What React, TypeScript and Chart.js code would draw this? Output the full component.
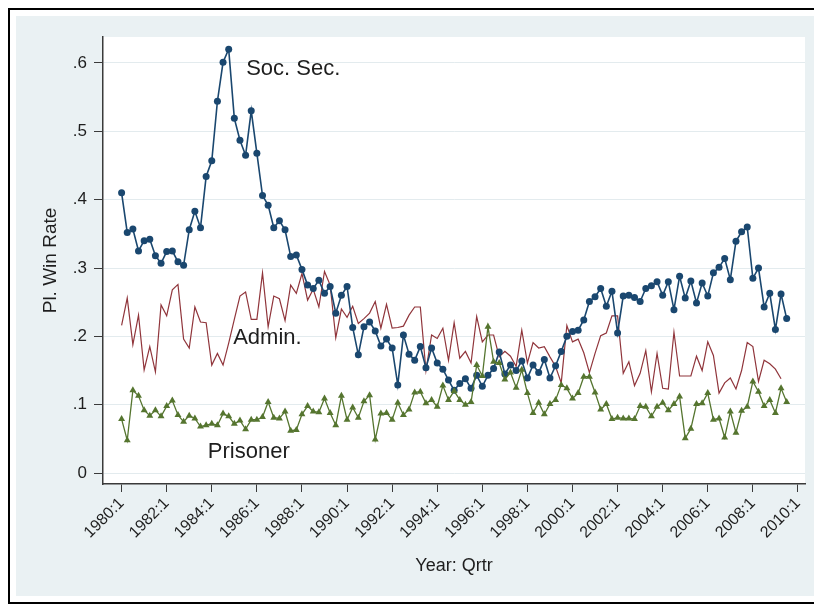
import React, { useEffect, useRef } from "react";
import { Chart, registerables } from "chart.js";

Chart.register(...registerables);

// Quarterly plaintiff win rates, 1980:1 onward (index 0 = 1980:1)
const startYear = 1980;

const socSec = [
  0.410, 0.352, 0.357, 0.325, 0.340, 0.342, 0.318, 0.307, 0.324, 0.325,
  0.309, 0.304, 0.356, 0.383, 0.359, 0.434, 0.457, 0.544, 0.601, 0.620,
  0.519, 0.487, 0.465, 0.530, 0.468, 0.406, 0.392, 0.359, 0.369, 0.356,
  0.317, 0.319, 0.298, 0.275, 0.270, 0.282, 0.263, 0.273, 0.234, 0.260,
  0.273, 0.213, 0.173, 0.214, 0.221, 0.208, 0.186, 0.196, 0.183, 0.129,
  0.202, 0.174, 0.165, 0.185, 0.154, 0.183, 0.161, 0.152, 0.136, 0.121,
  0.131, 0.138, 0.124, 0.143, 0.127, 0.143, 0.153, 0.177, 0.145, 0.158,
  0.150, 0.164, 0.139, 0.158, 0.147, 0.166, 0.139, 0.157, 0.178, 0.200,
  0.207, 0.209, 0.224, 0.251, 0.258, 0.270, 0.244, 0.266, 0.205, 0.259,
  0.260, 0.257, 0.251, 0.270, 0.274, 0.280, 0.260, 0.280, 0.239, 0.288,
  0.256, 0.281, 0.249, 0.278, 0.259, 0.293, 0.301, 0.314, 0.283, 0.339,
  0.353, 0.360, 0.285, 0.300, 0.243, 0.263, 0.210, 0.262, 0.226,
];

const admin = [
  0.216, 0.256, 0.188, 0.231, 0.151, 0.185, 0.148, 0.246, 0.230, 0.268,
  0.276, 0.196, 0.183, 0.243, 0.221, 0.220, 0.158, 0.175, 0.158, 0.190,
  0.225, 0.259, 0.265, 0.225, 0.225, 0.293, 0.214, 0.259, 0.255, 0.223,
  0.275, 0.263, 0.292, 0.253, 0.269, 0.243, 0.295, 0.275, 0.198, 0.240,
  0.228, 0.244, 0.219, 0.226, 0.234, 0.251, 0.212, 0.247, 0.212, 0.213,
  0.215, 0.231, 0.243, 0.243, 0.150, 0.202, 0.197, 0.212, 0.165, 0.220,
  0.168, 0.178, 0.161, 0.229, 0.192, 0.202, 0.202, 0.170, 0.178, 0.171,
  0.156, 0.209, 0.161, 0.191, 0.183, 0.185, 0.170, 0.156, 0.132, 0.216,
  0.192, 0.196, 0.176, 0.147, 0.175, 0.201, 0.205, 0.230, 0.230, 0.146,
  0.163, 0.128, 0.146, 0.179, 0.119, 0.175, 0.124, 0.123, 0.206, 0.142,
  0.142, 0.142, 0.171, 0.150, 0.192, 0.172, 0.117, 0.132, 0.139, 0.123,
  0.150, 0.191, 0.185, 0.134, 0.165, 0.160, 0.152, 0.138,
];

const prisoner = [
  0.079, 0.048, 0.121, 0.113, 0.092, 0.084, 0.092, 0.083, 0.098, 0.106,
  0.085, 0.075, 0.084, 0.080, 0.068, 0.070, 0.072, 0.070, 0.087, 0.083,
  0.072, 0.077, 0.064, 0.078, 0.078, 0.082, 0.104, 0.081, 0.080, 0.090,
  0.062, 0.063, 0.086, 0.098, 0.090, 0.089, 0.109, 0.088, 0.070, 0.113,
  0.078, 0.096, 0.081, 0.105, 0.114, 0.049, 0.087, 0.088, 0.078, 0.103,
  0.085, 0.093, 0.118, 0.119, 0.102, 0.107, 0.097, 0.128, 0.107, 0.120,
  0.107, 0.100, 0.104, 0.158, 0.142, 0.214, 0.163, 0.161, 0.137, 0.147,
  0.125, 0.151, 0.117, 0.088, 0.103, 0.086, 0.101, 0.107, 0.129, 0.124,
  0.109, 0.117, 0.141, 0.141, 0.118, 0.093, 0.101, 0.079, 0.081, 0.080,
  0.080, 0.079, 0.098, 0.097, 0.083, 0.097, 0.103, 0.092, 0.101, 0.112,
  0.051, 0.065, 0.101, 0.102, 0.117, 0.078, 0.080, 0.052, 0.090, 0.059,
  0.091, 0.097, 0.134, 0.119, 0.098, 0.107, 0.088, 0.124, 0.104,
];

const yTickValues = [0, 0.1, 0.2, 0.3, 0.4, 0.5, 0.6];
const xTickYears = [
  1980, 1982, 1984, 1986, 1988, 1990, 1992, 1994,
  1996, 1998, 2000, 2002, 2004, 2006, 2008, 2010,
];
const seriesNames = ["Soc. Sec.", "Admin.", "Prisoner"];

const FONT = "'Liberation Sans', Arial, Helvetica, sans-serif";
const TEXT = "#1e1e1e";
const AXIS = "#3a3a3a";

const toPoints = (arr: number[]) => arr.map((v, i) => ({ x: i, y: v }));

// Series labels placed inside the plot, in data coordinates (quarter index, rate)
const labelSpots: [number, number][] = [
  [22.1, 0.591],
  [19.8, 0.198],
  [15.3, 0.031],
];

const plotBackground = {
  id: "plotBackground",
  beforeDraw(chart: any) {
    const { ctx, chartArea } = chart;
    ctx.save();
    ctx.fillStyle = "#ffffff";
    ctx.fillRect(
      chartArea.left,
      chartArea.top,
      chartArea.right - chartArea.left,
      chartArea.bottom - chartArea.top
    );
    ctx.restore();
  },
};

const seriesLabels = {
  id: "seriesLabels",
  afterDatasetsDraw(chart: any) {
    const { ctx, scales } = chart;
    ctx.save();
    ctx.fillStyle = TEXT;
    ctx.font = `22px ${FONT}`;
    ctx.textAlign = "left";
    ctx.textBaseline = "middle";
    seriesNames.forEach((name, k) => {
      const [qx, qy] = labelSpots[k];
      ctx.fillText(name, scales.x.getPixelForValue(qx), scales.y.getPixelForValue(qy));
    });
    ctx.restore();
  },
};

export default function App() {
  const canvasRef = useRef<HTMLCanvasElement | null>(null);

  useEffect(() => {
    const canvas = canvasRef.current;
    if (!canvas) return;
    const chart = new Chart(canvas, {
      type: "line",
      data: {
        datasets: [
          {
            label: seriesNames[0],
            data: toPoints(socSec),
            borderColor: "#1a476f",
            backgroundColor: "#1a476f",
            borderWidth: 1.6,
            pointStyle: "circle",
            pointRadius: 3.5,
            pointBorderWidth: 0,
            tension: 0,
            order: 2,
          },
          {
            label: seriesNames[1],
            data: toPoints(admin),
            borderColor: "#90353b",
            backgroundColor: "#90353b",
            borderWidth: 1.2,
            pointRadius: 0,
            tension: 0,
            order: 3,
          },
          {
            label: seriesNames[2],
            data: toPoints(prisoner),
            borderColor: "#55752f",
            backgroundColor: "#55752f",
            borderWidth: 1.3,
            pointStyle: "triangle",
            pointRadius: 4,
            pointBorderWidth: 0,
            tension: 0,
            order: 1,
          },
        ],
      },
      options: {
        animation: false,
        responsive: false,
        events: [],
        layout: { padding: { top: 21, right: 17, left: 0, bottom: 0 } },
        plugins: {
          legend: { display: false },
          tooltip: { enabled: false },
        },
        scales: {
          x: {
            type: "linear",
            min: -3.3,
            max: 121.25,
            afterBuildTicks: (scale: any) => {
              scale.ticks = xTickYears.map((yr) => ({ value: (yr - startYear) * 4 }));
            },
            afterFit: (scale: any) => {
              scale.height = 112;
              scale.paddingLeft = 0;
              scale.paddingRight = 0;
            },
            grid: {
              drawOnChartArea: false,
              tickLength: 8,
              tickColor: AXIS,
              tickWidth: 1,
            },
            border: { color: AXIS, width: 1.5 },
            ticks: {
              autoSkip: false,
              minRotation: 45,
              maxRotation: 45,
              padding: 2,
              color: TEXT,
              font: { family: FONT, size: 16 },
              callback: (v: any) => `${startYear + Number(v) / 4}:1`,
            },
            title: {
              display: true,
              text: "Year: Qrtr",
              color: TEXT,
              font: { family: FONT, size: 18 },
              padding: { top: 0, bottom: 19 },
            },
          },
          y: {
            type: "linear",
            min: -0.016,
            max: 0.638,
            afterBuildTicks: (scale: any) => {
              scale.ticks = yTickValues.map((v) => ({ value: v }));
            },
            afterFit: (scale: any) => {
              scale.width = 87;
              scale.paddingTop = 0;
              scale.paddingBottom = 0;
            },
            grid: {
              color: "#e3ebee",
              lineWidth: 1,
              tickLength: 9,
              tickColor: AXIS,
              tickWidth: 1,
            },
            border: { color: AXIS, width: 1.5 },
            ticks: {
              padding: 7,
              color: TEXT,
              font: { family: FONT, size: 17 },
              callback: (v: any) => {
                const n = Number(v);
                return n === 0 ? "0" : n.toFixed(1).replace(/^0/, "");
              },
            },
            title: {
              display: true,
              text: "Pl. Win Rate",
              color: TEXT,
              font: { family: FONT, size: 19 },
              padding: { top: 23, bottom: 0 },
            },
          },
        },
      },
      plugins: [plotBackground, seriesLabels],
    } as any);
    return () => chart.destroy();
  }, []);

  return (
    <div
      style={{
        position: "relative",
        width: 812,
        height: 592,
        borderTop: "2px solid #000",
        borderLeft: "2px solid #000",
        borderBottom: "2px solid #000",
        background: "#ffffff",
      }}
    >
      <div
        style={{
          position: "absolute",
          left: 6,
          top: 6,
          width: 806,
          height: 580,
          background: "#eaf1f3",
        }}
      >
        <canvas ref={canvasRef} width={806} height={580} style={{ display: "block" }} />
      </div>
    </div>
  );
}
